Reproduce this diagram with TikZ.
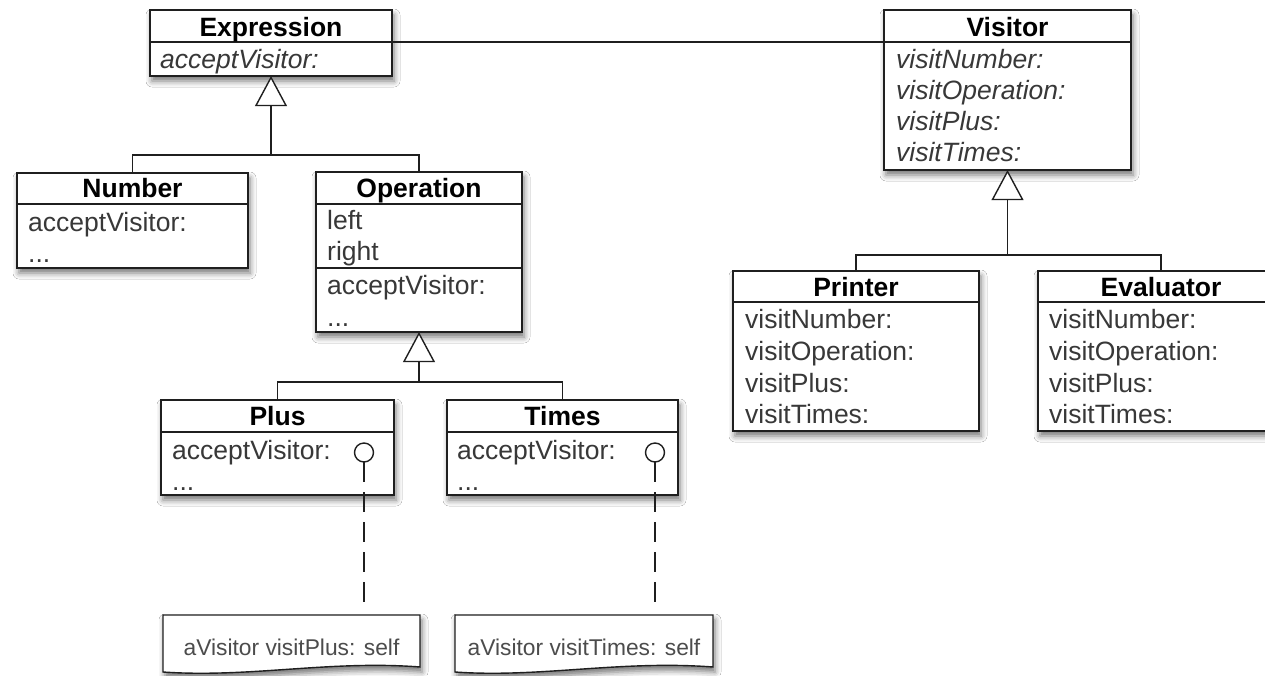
\documentclass[tikz,border=0pt]{standalone}
\usepackage{fontspec}
\setmainfont{Liberation Sans}
\usetikzlibrary{calc,shadows.blur}
\tikzset{
  shd/.style={blur shadow={shadow xshift=2pt, shadow yshift=-5pt, shadow blur radius=6pt, shadow opacity=55}},
  cls/.style={rectangle, draw=black!88, line width=1.6pt, fill=white, inner sep=0pt, outer sep=0pt, anchor=north west, shd},
  hdr/.style={font=\fontsize{26.5}{30}\selectfont\bfseries, text=black, anchor=base, inner sep=0pt},
  row/.style={font=\fontsize{26.5}{30}\selectfont, text=black!78, anchor=base west, inner sep=0pt},
  irow/.style={font=\fontsize{26.5}{30}\selectfont\itshape, text=black!78, anchor=base west, inner sep=0pt},
  divl/.style={draw=black!88, line width=1.6pt},
  conn/.style={draw=black!88, line width=1.4pt},
  gentri/.style={draw=black!88, line width=1.4pt, fill=white, line join=miter},
  lolly/.style={circle, draw=black!88, line width=1.4pt, fill=white, minimum size=19pt, inner sep=0pt, outer sep=0pt},
  dashln/.style={draw=black!88, line width=1.4pt, dash pattern=on 20pt off 10pt},
  noteshape/.style={draw=black!88, line width=1.4pt, fill=white, shd},
  notetxt/.style={font=\fontsize{22.8}{26}\selectfont, text=black!70, anchor=base, inner sep=0pt}
}
\begin{document}
\begin{tikzpicture}[x=1pt,y=-1pt]
\useasboundingbox[fill=white] (0,0) rectangle (1265,675);

% ---------- Expression ----------
\node[cls, minimum width=242pt, minimum height=66pt] (expr) at (150,10) {};
\draw[divl] (150,42) -- (392,42);
\node[hdr] (exprH) at (271,36) {Expression};
\node[irow] (exprR1) at (160,68) {acceptVisitor:};

% ---------- Visitor ----------
\node[cls, minimum width=247pt, minimum height=160pt] (vis) at (884,10) {};
\draw[divl] (884,42) -- (1131,42);
\node[hdr] (visH) at (1007.5,36) {Visitor};
\node[irow] (visR1) at (896,68) {visitNumber:};
\node[irow] (visR2) at (896,99) {visitOperation:};
\node[irow] (visR3) at (896,130) {visitPlus:};
\node[irow] (visR4) at (896,161) {visitTimes:};

% association line Expression -- Visitor
\coordinate (assocY) at (0,42);
\draw[conn] (expr.east |- assocY) -- (vis.west |- assocY);

% ---------- Number ----------
\node[cls, minimum width=231pt, minimum height=95pt] (num) at (17,173) {};
\draw[divl] (17,204) -- (248,204);
\node[hdr] (numH) at (132.5,197) {Number};
\node[row] (numR1) at (28,231) {acceptVisitor:};
\node[row] (numR2) at (28,262) {...};

% ---------- Operation ----------
\node[cls, minimum width=206pt, minimum height=160pt] (op) at (316,172) {};
\draw[divl] (316,204) -- (522,204);
\draw[divl] (316,268) -- (522,268);
\node[hdr] (opH) at (419,197) {Operation};
\node[row] (opR1) at (327,229) {left};
\node[row] (opR2) at (327,260) {right};
\node[row] (opR3) at (327,294) {acceptVisitor:};
\node[row] (opR4) at (327,326) {...};

% ---------- Plus ----------
\node[cls, minimum width=233pt, minimum height=95pt] (plus) at (161,400) {};
\draw[divl] (161,432) -- (394,432);
\node[hdr] (plusH) at (277.5,425) {Plus};
\node[row] (plusR1) at (172,459) {acceptVisitor:};
\node[row] (plusR2) at (172,490) {...};

% ---------- Times ----------
\node[cls, minimum width=231pt, minimum height=95pt] (times) at (447,400) {};
\draw[divl] (447,432) -- (678,432);
\node[hdr] (timesH) at (562.5,425) {Times};
\node[row] (timesR1) at (457,459) {acceptVisitor:};
\node[row] (timesR2) at (457,490) {...};

% ---------- Printer ----------
\node[cls, minimum width=246pt, minimum height=160pt] (prn) at (733,271) {};
\draw[divl] (733,302) -- (979,302);
\node[hdr] (prnH) at (856,296) {Printer};
\node[row] (prnR1) at (745,328) {visitNumber:};
\node[row] (prnR2) at (745,360) {visitOperation:};
\node[row] (prnR3) at (745,392) {visitPlus:};
\node[row] (prnR4) at (745,423) {visitTimes:};

% ---------- Evaluator ----------
\node[cls, minimum width=246pt, minimum height=160pt] (ev) at (1038,271) {};
\draw[divl] (1038,302) -- (1284,302);
\node[hdr] (evH) at (1161,296) {Evaluator};
\node[row] (evR1) at (1049,328) {visitNumber:};
\node[row] (evR2) at (1049,360) {visitOperation:};
\node[row] (evR3) at (1049,392) {visitPlus:};
\node[row] (evR4) at (1049,423) {visitTimes:};

% ---------- generalisations ----------
% Expression <- Number, Operation
\draw[gentri] ($(expr.south)+(0,1.5)$) -- ++(-15,28) -- ++(30,0) -- cycle;
\path (expr.south) ++(0,79) coordinate (exprBus);
\draw[conn] ($(expr.south)+(0,29.5)$) -- (exprBus);
\draw[conn] (num.north) |- (exprBus) -| (op.north);

% Operation <- Plus, Times
\draw[gentri] ($(op.south)+(0,1.5)$) -- ++(-15,28) -- ++(30,0) -- cycle;
\path (op.south) ++(0,50) coordinate (opBus);
\draw[conn] ($(op.south)+(0,29.5)$) -- (opBus);
\draw[conn] (plus.north) |- (opBus) -| (times.north);

% Visitor <- Printer, Evaluator
\draw[gentri] ($(vis.south)+(0,1.5)$) -- ++(-15,28) -- ++(30,0) -- cycle;
\path (vis.south) ++(0,85) coordinate (visBus);
\draw[conn] ($(vis.south)+(0,29.5)$) -- (visBus);
\draw[conn] (prn.north) |- (visBus) -| (ev.north);

% ---------- notes ----------
\draw[noteshape] (163,615) -- (420,615) -- (420,667)
   .. controls (330,660) and (250,678) .. (163,672) -- cycle;
\node[notetxt] (plusNote) at (291.5,655) {aVisitor visitPlus: self};
\draw[noteshape] (455,615) -- (713,615) -- (713,667)
   .. controls (620,660) and (540,678) .. (455,672) -- cycle;
\node[notetxt] (timesNote) at (584,655) {aVisitor visitTimes: self};

% ---------- lollipops ----------
\node[lolly] (plusDot) at (364,452.5) {};
\node[lolly] (timesDot) at (655,452.5) {};
\coordinate (plusEnd) at (364,602);
\coordinate (timesEnd) at (655,602);
\draw[dashln] (plusDot.south) -- (plusEnd);
\draw[dashln] (timesDot.south) -- (timesEnd);
\end{tikzpicture}
\end{document}
